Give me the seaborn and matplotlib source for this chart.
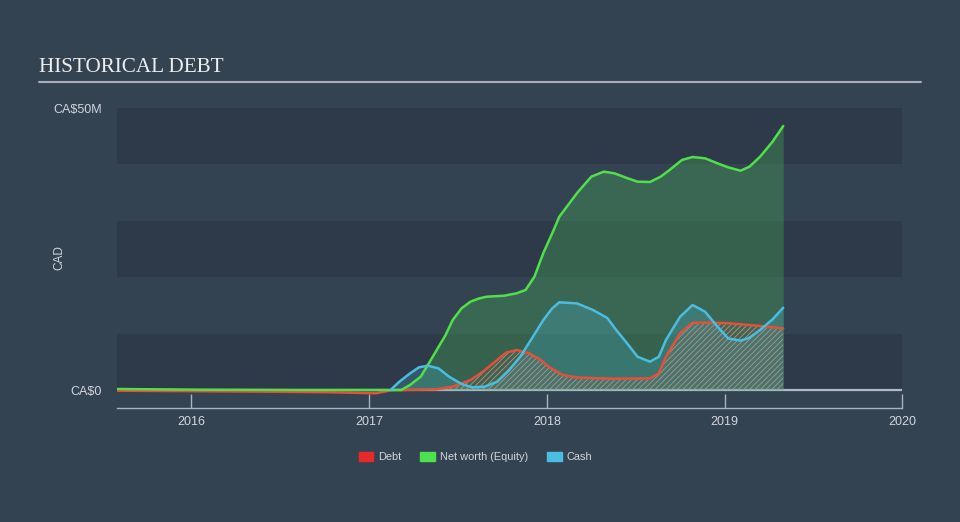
import matplotlib
matplotlib.use("Agg")
import matplotlib.pyplot as plt
from matplotlib.lines import Line2D
from matplotlib.patches import Patch
import seaborn as sns
import pandas as pd

# ---- data (CA$ millions, x in decimal years) ----
equity_years = [2015.58, 2016.05, 2016.61, 2017.12, 2017.18, 2017.23, 2017.29, 2017.33, 2017.38,
                2017.43, 2017.47, 2017.52, 2017.57, 2017.62, 2017.66, 2017.76, 2017.83, 2017.88,
                2017.93, 2017.98, 2018.03, 2018.07, 2018.17, 2018.25, 2018.32, 2018.38, 2018.45,
                2018.51, 2018.58, 2018.64, 2018.69, 2018.76, 2018.82, 2018.89, 2018.96, 2019.02,
                2019.09, 2019.14, 2019.20, 2019.27, 2019.33]
equity_vals = [0.18, 0.05, 0.0, 0.0, 0.0, 0.89, 2.36, 4.43, 7.09,
               9.75, 12.41, 14.48, 15.66, 16.25, 16.54, 16.72, 17.15, 17.73,
               20.09, 24.29, 27.78, 30.73, 34.93, 37.82, 38.71, 38.42, 37.59,
               36.94, 36.88, 37.82, 39.0, 40.78, 41.31, 41.08, 40.19, 39.48,
               38.88, 39.6, 41.37, 44.03, 46.81]

cash_years = [2017.12, 2017.17, 2017.23, 2017.28, 2017.33, 2017.39, 2017.45, 2017.52, 2017.58,
              2017.65, 2017.72, 2017.78, 2017.85, 2017.91, 2017.98, 2018.03, 2018.07, 2018.17,
              2018.26, 2018.34, 2018.39, 2018.45, 2018.51, 2018.58, 2018.63, 2018.67, 2018.75,
              2018.82, 2018.89, 2018.96, 2019.02, 2019.09, 2019.14, 2019.20, 2019.27, 2019.33]
cash_vals = [0.0, 1.47, 2.95, 4.02, 4.31, 3.84, 2.36, 1.06, 0.48,
             0.59, 1.47, 3.25, 5.90, 8.87, 12.41, 14.48, 15.55, 15.35,
             14.18, 12.77, 10.64, 8.33, 5.90, 5.02, 5.90, 8.87, 13.0,
             15.07, 13.89, 11.22, 9.16, 8.74, 9.28, 10.64, 12.53, 14.59]

debt_years = [2015.58, 2016.33, 2016.78, 2017.04, 2017.13, 2017.19, 2017.38, 2017.47, 2017.57,
              2017.64, 2017.72, 2017.77, 2017.83, 2017.90, 2017.96, 2018.01, 2018.09, 2018.17,
              2018.37, 2018.58, 2018.63, 2018.67, 2018.75, 2018.82, 2018.94, 2019.03, 2019.20,
              2019.33]
debt_vals = [-0.12, -0.27, -0.40, -0.58, 0.0, 0.0, 0.12, 0.59, 1.77,
             3.25, 5.32, 6.62, 7.09, 6.50, 5.44, 4.13, 2.66, 2.22,
             2.0, 2.07, 2.95, 5.90, 10.10, 11.93, 11.93, 11.83, 11.35,
             10.94]

year_ticks = [2016, 2017, 2018, 2019, 2020]
year_labels = ["2016", "2017", "2018", "2019", "2020"]
y_ticks = [0, 50]
y_labels = ["CA$0", "CA$50M"]
series_names = ["Debt", "Net worth (Equity)", "Cash"]

# ---- styling ----
BG = "#344352"
BAND = "#2e3a4a"
TXT = "#d2d6dc"
C_DEBT = "#e4503a"
C_EQ = "#52e04a"
C_CASH = "#4bbde0"

sns.set_theme(style="dark")
plt.rcParams["font.family"] = ["Liberation Sans", "DejaVu Sans"]
plt.rcParams["hatch.linewidth"] = 0.6

fig = plt.figure(figsize=(9.6, 5.22), dpi=100, facecolor=BG)
W, H = 960, 522
ax = fig.add_axes([117 / W, (H - 408) / H, (902.3 - 117) / W, (408 - 108) / H])
ax.set_facecolor("none")
ax.set_xlim(2015.581, 2020.0)
ax.set_ylim(-3.19, 50)

for lo, hi in [(0, 10), (20, 30), (40, 50)]:
    ax.axhspan(lo, hi, color=BAND, lw=0, zorder=0)
ax.axhline(0, color="#b4b8c0", lw=1.6, zorder=1)

df_eq = pd.DataFrame({"year": equity_years, "value": equity_vals})
df_cash = pd.DataFrame({"year": cash_years, "value": cash_vals})
df_debt = pd.DataFrame({"year": debt_years, "value": debt_vals})

# fills
ax.fill_between(df_eq["year"], 0, df_eq["value"], color="#48c858", alpha=0.28, lw=0, zorder=2)
ax.fill_between(df_cash["year"], 0, df_cash["value"], color=C_CASH, alpha=0.24, lw=0, zorder=3)
dpos = df_debt[df_debt["year"] >= 2017.13]
ax.fill_between(dpos["year"], 0, dpos["value"], facecolor=(0.85, 0.35, 0.25, 0.10),
                edgecolor="#a89890", hatch="//////", lw=0, zorder=4)

sns.lineplot(data=df_eq, x="year", y="value", ax=ax, color=C_EQ, lw=1.8, zorder=6)
sns.lineplot(data=df_cash, x="year", y="value", ax=ax, color=C_CASH, lw=1.8, zorder=7)
sns.lineplot(data=df_debt, x="year", y="value", ax=ax, color=C_DEBT, lw=1.8, zorder=5)

ax.set_xlabel("")
ax.set_ylabel("CAD", color=TXT, fontsize=8.5)
ax.yaxis.set_label_coords((65 - 117) / (902.3 - 117), (408 - 258) / 300)

ax.set_xticks(year_ticks)
ax.set_xticklabels(year_labels)
ax.set_yticks(y_ticks)
ax.set_yticklabels(y_labels)
ax.tick_params(axis="x", direction="in", length=10, width=1, color="#aab2bc",
               labelcolor=TXT, labelsize=9, pad=6, bottom=True)
ax.tick_params(axis="y", length=0, labelcolor=TXT, labelsize=9, pad=11)
ax.grid(False)
for s in ["top", "right", "left"]:
    ax.spines[s].set_visible(False)
ax.spines["bottom"].set_color("#aab2bc")
ax.spines["bottom"].set_linewidth(1)

# title and rule
fig.text(39 / W, 1 - 67 / H, "HISTORICAL DEBT", family="Liberation Serif", fontsize=15.2,
         color="#eeeeee", va="center", ha="left")
fig.add_artist(Line2D([39 / W, 921 / W], [1 - 82 / H, 1 - 82 / H], color="#a8aeb8", lw=1.5))

handles = [Patch(color="#e8282c"), Patch(color="#4fe050"), Patch(color="#4bbde0")]
leg = fig.legend(handles, series_names, loc="center", bbox_to_anchor=(475.5 / W, 1 - 457 / H),
                 ncol=3, frameon=False, fontsize=7.9, handlelength=1.35, handleheight=1.0,
                 columnspacing=1.7, handletextpad=0.45)
for t in leg.get_texts():
    t.set_color(TXT)

fig.savefig("out.png", dpi=100, facecolor=BG)
